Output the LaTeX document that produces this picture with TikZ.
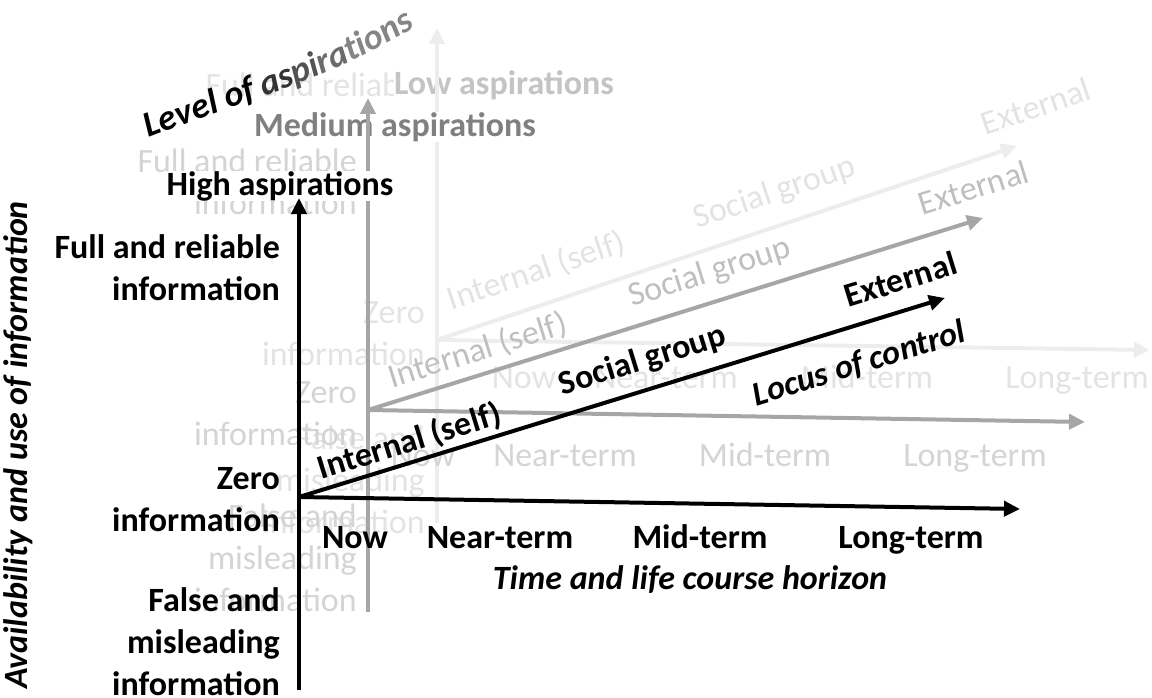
\documentclass[tikz,border=0pt]{standalone}
\usepackage{fontspec}
\setmainfont{Carlito}
\usetikzlibrary{arrows.meta, decorations.text}
\colorlet{midline}{black!35}
\colorlet{midtext}{black!17}
\colorlet{midslope}{black!25}
\colorlet{farline}{black!7}
\colorlet{fartext}{black!11}
\newcommand{\labsize}{\fontsize{34}{42}\selectfont}
\newcommand{\levfont}{\fontsize{36}{42}\selectfont\bfseries\itshape}
\tikzset{
    lab/.style={font=\labsize, inner sep=0pt}, % 普通文字
    blab/.style={font=\labsize\bfseries, inner sep=0pt}, % 粗体文字
    ilab/.style={font=\labsize\bfseries\itshape, inner sep=0pt}, % 坐标轴标题
    axis/.style={line width=4pt, -{Triangle[length=16pt, width=15pt]}}, % 坐标轴
    aspbox/.style={blab, fill=white} % 抱负水平标签
}

\begin{document}
\begin{tikzpicture}[x=1pt, y=-1pt]
    \useasboundingbox (0,0) rectangle (1152,698);

    % low aspirations (back)
    \coordinate (O3) at (437,340); \coordinate (B3) at (437,523); \coordinate (A3) at (437,28);
    \coordinate (H3) at (1150,350); \coordinate (D3) at (1017,146);
    \node[lab, text=fartext, anchor=east, align=right] (far full) at (425,106) {Full and reliable\\information};
    \node[lab, text=fartext, anchor=east, align=right] (far zero) at (425,334) {Zero\\information};
    \node[lab, text=fartext, anchor=east, align=right] (far false) at (425,480) {False and\\misleading\\information};
    \node[aspbox, text=black!23] (far asp) at (504,85) {Low aspirations};
    \draw[axis, farline] (B3) -- (A3);
    \draw[axis, farline] (O3) -- (H3);
    \draw[axis, farline] (O3) -- (D3)
        node[lab, text=fartext, sloped, above=17pt, pos=.19] (far int) {Internal (self)}
        node[lab, text=fartext, sloped, above=15pt, pos=.6] (far soc) {Social group}
        node[lab, text=fartext, sloped, above=18pt, pos=1.05] (far ext) {External};
    \foreach \x/\t [count=\i] in {524/Now, 666/Near-term, 867/Mid-term, 1077/Long-term}
        \node[lab, text=fartext, anchor=base] (far t\i) at (\x,388) {\t};

    % medium aspirations (middle)
    \coordinate (O2) at (368,410); \coordinate (B2) at (368,612); \coordinate (A2) at (368,98);
    \coordinate (H2) at (1085,422); \coordinate (D2) at (983,218);
    \node[lab, text=midtext, anchor=east, align=right] (mid full) at (357,182) {Full and reliable\\information};
    \node[lab, text=midtext, anchor=east, align=right] (mid zero) at (357,414) {Zero\\information};
    \node[lab, text=midtext, anchor=east, align=right] (mid false) at (357,558) {False and\\misleading\\information};
    \node[aspbox, text=black!50] (mid asp) at (395,127) {Medium aspirations};
    \draw[axis, midline] (B2) -- (A2);
    \draw[axis, midline] (O2) -- (H2);
    \draw[axis, midline] (O2) -- (D2)
        node[lab, text=midslope, sloped, above=7pt, pos=.19] (mid int) {Internal (self)}
        node[lab, text=midslope, sloped, above=12pt, pos=.57] (mid soc) {Social group}
        node[lab, text=midslope, sloped, above=18pt, pos=1] (mid ext) {External};
    \foreach \x/\t [count=\i] in {423/Now, 565/Near-term, 765/Mid-term, 975/Long-term}
        \node[lab, text=midtext, anchor=base] (mid t\i) at (\x,466) {\t};

    % high aspirations (front)
    \coordinate (O1) at (299,497); \coordinate (B1) at (299,690); \coordinate (A1) at (299,198);
    \coordinate (H1) at (1020,509); \coordinate (D1) at (945,298);
    \node[blab, anchor=east, align=right] (full) at (280,268) {Full and reliable\\information};
    \node[blab, anchor=east, align=right] (zero) at (280,500) {Zero\\information};
    \node[blab, anchor=east, align=right] (false) at (280,642) {False and\\misleading\\information};
    \node[aspbox] (high asp) at (280,186) {High aspirations};
    \draw[axis] (B1) -- (A1);
    \draw[axis] (O1) -- (D1)
        node[blab, sloped, above=3pt, pos=.18] (int) {Internal (self)}
        node[blab, sloped, above=12pt, pos=.545] (soc) {Social group}
        node[blab, sloped, above=17pt, pos=.945] (ext) {External}
        node[ilab, sloped, below=22pt, pos=.85] (locus) {Locus of control};
    \draw[axis] (O1) -- (H1);
    \foreach \x/\t [count=\i] in {355/Now, 500/Near-term, 700/Mid-term, 911/Long-term}
        \node[blab, anchor=base] (t\i) at (\x,548) {\t};

    \node[ilab] (horizon) at (690,580) {Time and life course horizon};
    \node[ilab, rotate=90] (avail) at (18,445) {Availability and use of information};
    \path[decorate, decoration={text along path, text align=center,
        text={|\levfont|Level of |\levfont\color{black!80}|as|\levfont\color{black!68}|pi|\levfont\color{black!58}|ra|\levfont\color{black!48}|tions}}]
        (150,137) .. controls (250,99) and (330,80) .. (414,28);
\end{tikzpicture}
\end{document}
